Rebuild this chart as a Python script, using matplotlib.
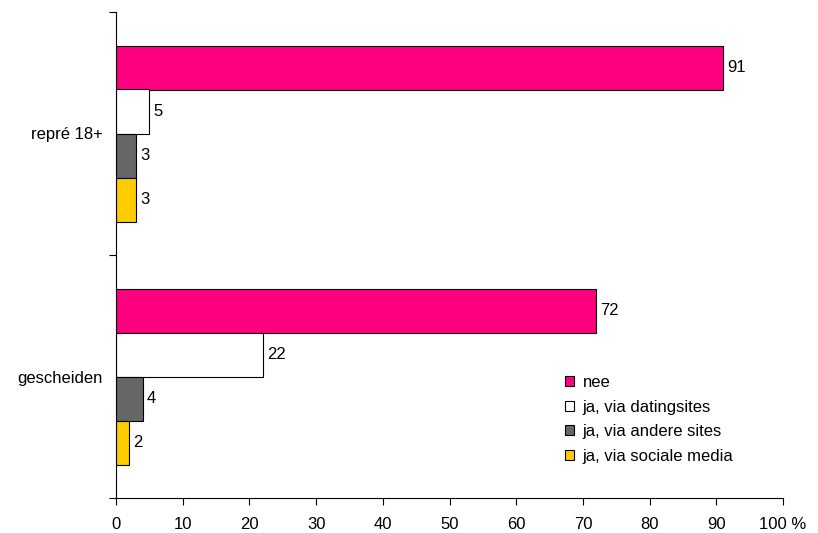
import numpy as np
import matplotlib.pyplot as plt

# Data
groups = ['gescheiden', 'repré 18+']
series = ['nee', 'ja, via datingsites', 'ja, via andere sites', 'ja, via sociale media']
values = {
    'nee': [72, 91],
    'ja, via datingsites': [22, 5],
    'ja, via andere sites': [4, 3],
    'ja, via sociale media': [2, 3],
}
colors = ['#FF0080', '#FFFFFF', '#666666', '#FFCC00']
xticks = [0, 10, 20, 30, 40, 50, 60, 70, 80, 90, 100]

plt.rcParams['font.family'] = ['Liberation Sans', 'DejaVu Sans']
fs = 12

fig = plt.figure(figsize=(8.18, 5.33), dpi=100)
ax = fig.add_axes([116 / 818, 35 / 533, 667 / 818, 486 / 533])

h = 44 / 243
y = np.arange(len(groups))
for i, (name, col) in enumerate(zip(series, colors)):
    pos = y + (1.5 - i) * h
    bars = ax.barh(pos, values[name], height=h, color=col, edgecolor='black',
                   linewidth=0.8, label=name)
    for b, v in zip(bars, values[name]):
        ax.text(b.get_width() + 0.6, b.get_y() + h / 2, str(v),
                va='center', ha='left', fontsize=fs)

ax.set_xlim(0, 100)
ax.set_ylim(-0.5, 1.5)
ax.set_xticks(xticks)
ax.set_xticklabels([str(t) for t in xticks[:-1]] + ['100 %'], fontsize=fs)
# boundary ticks (major) and category labels (minor)
ax.set_yticks([-0.5, 0.5, 1.5])
ax.set_yticklabels([])
ax.set_yticks(y, minor=True)
ax.set_yticklabels(groups, minor=True, fontsize=fs)
ax.tick_params(axis='y', which='minor', length=0, pad=9.5)
ax.tick_params(axis='x', direction='out', length=5, width=0.8, pad=9)
ax.tick_params(axis='y', which='major', direction='out', length=5, width=0.8)
for s in ['top', 'right']:
    ax.spines[s].set_visible(False)
for s in ['left', 'bottom']:
    ax.spines[s].set_linewidth(0.8)

ax.legend(loc='upper left', bbox_to_anchor=(565 / 818, 1 - 375 / 533),
          bbox_transform=fig.transFigure, frameon=False, fontsize=fs,
          handlelength=0.55, handleheight=0.55, handletextpad=0.5,
          labelspacing=0.58, borderaxespad=0, borderpad=0)

fig.savefig('out.png', dpi=100)
